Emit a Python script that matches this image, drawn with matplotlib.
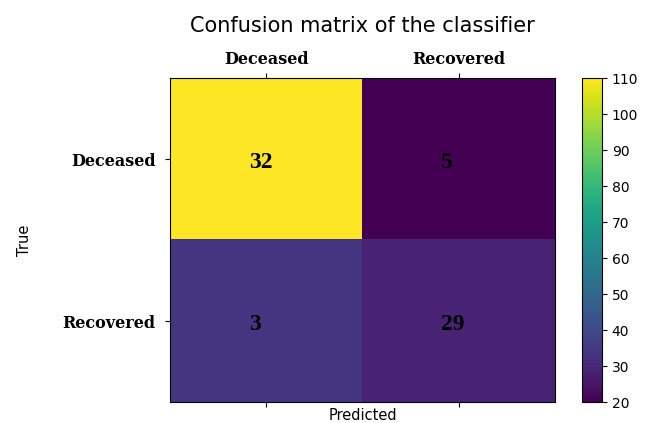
import numpy as np
import matplotlib
matplotlib.use('Agg')
import matplotlib.pyplot as plt

labels = ['Deceased', 'Recovered']
# colour values behind the image
heat = np.array([[110, 20],
                 [34, 29]])
# counts printed in the cells
counts = np.array([[32, 5],
                   [3, 29]])

fig = plt.figure(figsize=(6.47, 4.23), dpi=100)
ax = fig.add_axes([0.2628, 0.0496, 0.595, 0.766])
cax = fig.add_axes([0.8995, 0.0496, 0.0309, 0.766])

im = ax.imshow(heat, cmap='viridis', aspect='auto')
cb = fig.colorbar(im, cax=cax, ticks=np.arange(20, 111, 10))
cb.ax.tick_params(labelsize=10)

ax.set_xticks(range(len(labels)))
ax.set_yticks(range(len(labels)))
ax.set_xticklabels(labels, family='DejaVu Serif', fontweight='bold', fontsize=11.5)
ax.set_yticklabels(labels, family='DejaVu Serif', fontweight='bold', fontsize=11.5)
ax.tick_params(axis='x', top=True, bottom=True, labeltop=True, labelbottom=False)
ax.tick_params(axis='y', pad=7)

for i in range(len(labels)):
    for j in range(len(labels)):
        ax.text(j - 0.09, i + 0.02, str(counts[i, j]), ha='left', va='center',
                family='Liberation Serif', fontweight='bold', fontsize=17, color='black')

ax.set_xlabel('Predicted', fontsize=10.5, labelpad=1)
ax.xaxis.set_label_position('bottom')
ax.set_ylabel('True', fontsize=10.5, labelpad=22)
ax.set_title('Confusion matrix of the classifier', fontsize=15, pad=33)

fig.savefig('out.png', dpi=100)
